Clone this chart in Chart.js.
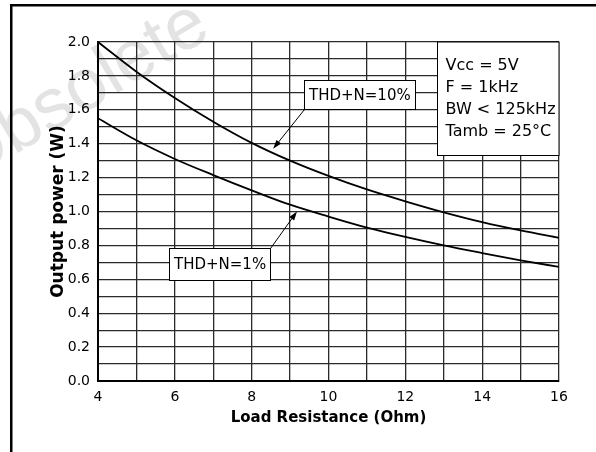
<!DOCTYPE html>
<html>
<head>
<meta charset="utf-8">
<script src="https://cdn.jsdelivr.net/npm/chart.js@4.4.0/dist/chart.umd.min.js"></script>
<style>
    html, body { margin: 0; padding: 0; background: #fff; }
    #wrap { width: 596px; height: 452px; }
</style>
</head>
<body>
<div id="wrap"><canvas id="powerChart" width="596" height="452"></canvas></div>
<script>
// Output power vs load resistance
const loadOhm = [4, 5, 6, 7, 8, 9, 10, 11, 12, 13, 14, 15, 16];
const powerThd10 = [2.00, 1.825, 1.67, 1.53, 1.405, 1.30, 1.21, 1.13, 1.06, 0.995, 0.937, 0.888, 0.845];
const powerThd1 = [1.55, 1.42, 1.31, 1.215, 1.125, 1.04, 0.97, 0.905, 0.85, 0.80, 0.755, 0.712, 0.673];

const xTickLabels = [4, 6, 8, 10, 12, 14, 16];
const yTickLabels = ['0.0', '0.2', '0.4', '0.6', '0.8', '1.0', '1.2', '1.4', '1.6', '1.8', '2.0'];
const conditions = ['Vcc = 5V', 'F = 1kHz', 'BW < 125kHz', 'Tamb = 25\u00B0C'];

// curve labels, anchored in data units
const curveLabels = [
    { text: 'THD+N=10%', boxX: 9.36, boxY: 1.774, h: 29, from: 'bottomLeft', tipX: 8.56, tipY: 1.37 },
    { text: 'THD+N=1%', boxX: 5.86, boxY: 0.782, h: 32, from: 'topRight', tipX: 9.18, tipY: 1.0 }
];

function toPoints(xs, ys) {
    return xs.map((v, i) => ({ x: v, y: ys[i] }));
}

function drawArrow(ctx, x0, y0, x1, y1) {
    const a = Math.atan2(y1 - y0, x1 - x0);
    const len = 9, half = 3;
    ctx.beginPath();
    ctx.moveTo(x0, y0);
    ctx.lineTo(x1 - Math.cos(a) * len * 0.6, y1 - Math.sin(a) * len * 0.6);
    ctx.stroke();
    ctx.beginPath();
    ctx.moveTo(x1, y1);
    ctx.lineTo(x1 - Math.cos(a) * len + Math.sin(a) * half, y1 - Math.sin(a) * len - Math.cos(a) * half);
    ctx.lineTo(x1 - Math.cos(a) * len - Math.sin(a) * half, y1 - Math.sin(a) * len + Math.cos(a) * half);
    ctx.closePath();
    ctx.fill();
}

// watermark + page frame (top and left rules)
const frameAndMark = {
    id: 'frameAndMark',
    beforeDraw(chart) {
        const ctx = chart.ctx;
        ctx.save();
        ctx.translate(-34, 184);
        ctx.rotate(-31 * Math.PI / 180);
        ctx.font = '72px "Liberation Sans", Arial, sans-serif';
        ctx.fillStyle = '#e3e3e3';
        ctx.fillText('Obsolete', 0, 0);
        ctx.restore();

        ctx.save();
        ctx.fillStyle = '#000';
        ctx.fillRect(10, 4, chart.width - 10, 2.5);
        ctx.fillRect(10, 4, 2.5, chart.height - 4);
        ctx.restore();
    }
};

const notes = {
    id: 'notes',
    afterDatasetsDraw(chart) {
        const { ctx, chartArea } = chart;
        const x = chart.scales.x, y = chart.scales.y;
        ctx.save();
        ctx.lineWidth = 1;
        ctx.strokeStyle = '#000';
        ctx.fillStyle = '#000';
        ctx.textBaseline = 'middle';

        // THD+N labels with arrows
        ctx.font = '15px "DejaVu Sans"';
        curveLabels.forEach(lb => {
            const left = Math.round(x.getPixelForValue(lb.boxX)) + 0.5;
            const top = Math.round(y.getPixelForValue(lb.boxY)) + 0.5;
            const w = Math.round(ctx.measureText(lb.text).width + 9);
            const tipX = x.getPixelForValue(lb.tipX);
            const tipY = y.getPixelForValue(lb.tipY);
            if (lb.from === 'bottomLeft') {
                drawArrow(ctx, left, top + lb.h, tipX, tipY);
            } else {
                drawArrow(ctx, left + w, top, tipX, tipY);
            }
            ctx.fillStyle = '#fff';
            ctx.fillRect(left, top, w, lb.h);
            ctx.strokeRect(left, top, w, lb.h);
            ctx.fillStyle = '#000';
            ctx.fillText(lb.text, left + 4.5, top + lb.h / 2 + 1);
        });

        // test conditions box in the top right corner
        const bl = Math.round(x.getPixelForValue(12.82)) + 0.5;
        const bt = chartArea.top;
        const bb = Math.round(y.getPixelForValue(1.332)) + 0.5;
        ctx.fillStyle = '#fff';
        ctx.fillRect(bl, bt, chartArea.right - bl, bb - bt);
        ctx.strokeRect(bl, bt, chartArea.right - bl, bb - bt);
        ctx.fillStyle = '#000';
        ctx.font = '16px "DejaVu Sans"';
        conditions.forEach((line, i) => {
            ctx.fillText(line, bl + 8, bt + 24 + i * 22);
        });
        ctx.restore();
    }
};

Chart.defaults.font.family = '"DejaVu Sans", sans-serif';
Chart.defaults.color = '#000';

const ctx = document.getElementById('powerChart').getContext('2d');
new Chart(ctx, {
    type: 'line',
    data: {
        datasets: [
            {
                label: 'THD+N=10%',
                data: toPoints(loadOhm, powerThd10),
                borderColor: '#000',
                borderWidth: 1.8,
                pointRadius: 0,
                cubicInterpolationMode: 'monotone'
            },
            {
                label: 'THD+N=1%',
                data: toPoints(loadOhm, powerThd1),
                borderColor: '#000',
                borderWidth: 1.8,
                pointRadius: 0,
                cubicInterpolationMode: 'monotone'
            }
        ]
    },
    options: {
        responsive: false,
        animation: false,
        layout: { padding: { left: 0, top: 42, right: 37, bottom: 25 } },
        plugins: {
            legend: { display: false },
            tooltip: { enabled: false }
        },
        scales: {
            x: {
                type: 'linear',
                min: 4,
                max: 16,
                afterFit: scale => { scale.height = 46; },
                grid: { color: '#2a2a2a', lineWidth: 1.3, drawTicks: false },
                border: { color: '#000', width: 2 },
                ticks: {
                    stepSize: 1,
                    autoSkip: false,
                    maxRotation: 0,
                    padding: 8,
                    font: { size: 14 },
                    callback: v => xTickLabels.includes(v) ? String(v) : ''
                },
                title: {
                    display: true,
                    text: 'Load Resistance (Ohm)',
                    font: { size: 15, weight: 'bold' },
                    padding: 0
                }
            },
            y: {
                min: 0,
                max: 2,
                afterFit: scale => { scale.width = 98; },
                grid: { color: '#2a2a2a', lineWidth: 1.3, drawTicks: false },
                border: { color: '#000', width: 2 },
                ticks: {
                    stepSize: 0.1,
                    autoSkip: false,
                    padding: 8,
                    font: { size: 14 },
                    callback: v => {
                        const s = v.toFixed(1);
                        return yTickLabels.includes(s) ? s : '';
                    }
                },
                title: {
                    display: true,
                    text: 'Output power (W)',
                    font: { size: 17, weight: 'bold' },
                    padding: { top: 48, bottom: 0 }
                }
            }
        }
    },
    plugins: [frameAndMark, notes]
});
</script>
</body>
</html>
